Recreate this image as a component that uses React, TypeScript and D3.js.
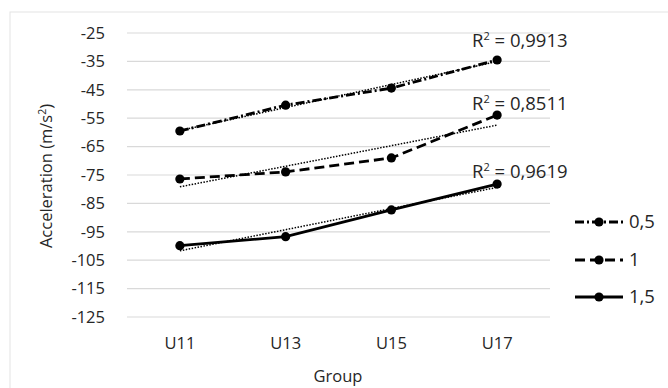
import React from "react";
import * as d3 from "d3";

const categories = ["U11", "U13", "U15", "U17"];
const seriesNames = ["0,5", "1", "1,5"];
const s05 = [-59.5, -50.4, -44.4, -34.5];
const s1 = [-76.4, -73.9, -69.0, -53.9];
const s15 = [-99.9, -96.7, -87.3, -78.2];
const r2Values = ["0,9913", "0,8511", "0,9619"];
const yTicks = [-25, -35, -45, -55, -65, -75, -85, -95, -105, -115, -125];

const allSeries = [s05, s1, s15];
const dashes = ["9,3,2,3", "10,5", ""];

function linFit(vals: number[]) {
  const xs = vals.map((_, i) => i);
  const mx = d3.mean(xs)!;
  const my = d3.mean(vals)!;
  let sxy = 0, sxx = 0;
  xs.forEach((x, i) => { sxy += (x - mx) * (vals[i] - my); sxx += (x - mx) * (x - mx); });
  const b = sxy / sxx;
  return xs.map((x) => my + b * (x - mx));
}

export default function App() {
  const W = 668, H = 388;
  const font = "'Open Sans', sans-serif";
  const col = "#262626";
  const x = d3.scaleBand<string>().domain(categories).range([127, 550]);
  const y = d3.scaleLinear().domain([-125, -25]).range([317, 33]);
  const cx = (c: string) => x(c)! + x.bandwidth() / 2;
  const line = d3.line<number>().x((_, i) => cx(categories[i])).y((v) => y(v));

  return (
    <svg width={W} height={H} style={{ position: "absolute", left: 0, top: 0, background: "#fff" }}>
      <rect x={10} y={12} width={W} height={H} fill="#fff" stroke="#e3e3e3" strokeWidth={1} />
      {yTicks.map((t) => (
        <g key={t}>
          <line x1={127} x2={550} y1={y(t)} y2={y(t)} stroke="#d9d9d9" strokeWidth={1.2} />
          <text x={105} y={y(t)} dy="0.35em" textAnchor="end" fontFamily={font} fontSize={16.5} fill={col}>{t}</text>
        </g>
      ))}
      {categories.map((c) => (
        <text key={c} x={cx(c)} y={343} dy="0.35em" textAnchor="middle" fontFamily={font} fontSize={16.5} fill={col}>{c}</text>
      ))}
      <text x={338} y={376} dy="0.35em" textAnchor="middle" fontFamily={font} fontSize={16.5} fill={col}>Group</text>
      <text transform="translate(46,176) rotate(-90)" textAnchor="middle" dy="0.35em" fontFamily={font} fontSize={16.5} fill={col}>
        Acceleration (m/s<tspan dy="-6" fontSize={10.5}>2</tspan><tspan dy="6">)</tspan>
      </text>
      {allSeries.map((s, k) => (
        <path key={"t" + k} d={line(linFit(s))!} fill="none" stroke="#000" strokeWidth={1.5} strokeDasharray="1.5,1.5" />
      ))}
      {allSeries.map((s, k) => (
        <g key={"s" + k}>
          <path d={line(s)!} fill="none" stroke="#000" strokeWidth={2.8} strokeDasharray={dashes[k]} />
          {s.map((v, i) => (
            <circle key={i} cx={cx(categories[i])} cy={y(v)} r={4.6} fill="#000" />
          ))}
        </g>
      ))}
      {r2Values.map((v, k) => (
        <text key={v} x={472} y={[41, 104, 172][k]} dy="0.35em" fontFamily={font} fontSize={18.5} fill={col}>
          R<tspan dy="-7" fontSize={11}>2</tspan><tspan dy="7"> = {v}</tspan>
        </text>
      ))}
      {seriesNames.map((n, k) => {
        const ly = [222, 260, 297][k];
        return (
          <g key={n}>
            <line x1={575} x2={623} y1={ly} y2={ly} stroke="#000" strokeWidth={2.8} strokeDasharray={dashes[k]} />
            <circle cx={599} cy={ly} r={4.6} fill="#000" />
            <text x={629} y={ly} dy="0.35em" fontFamily={font} fontSize={18.5} fill={col}>{n}</text>
          </g>
        );
      })}
    </svg>
  );
}
